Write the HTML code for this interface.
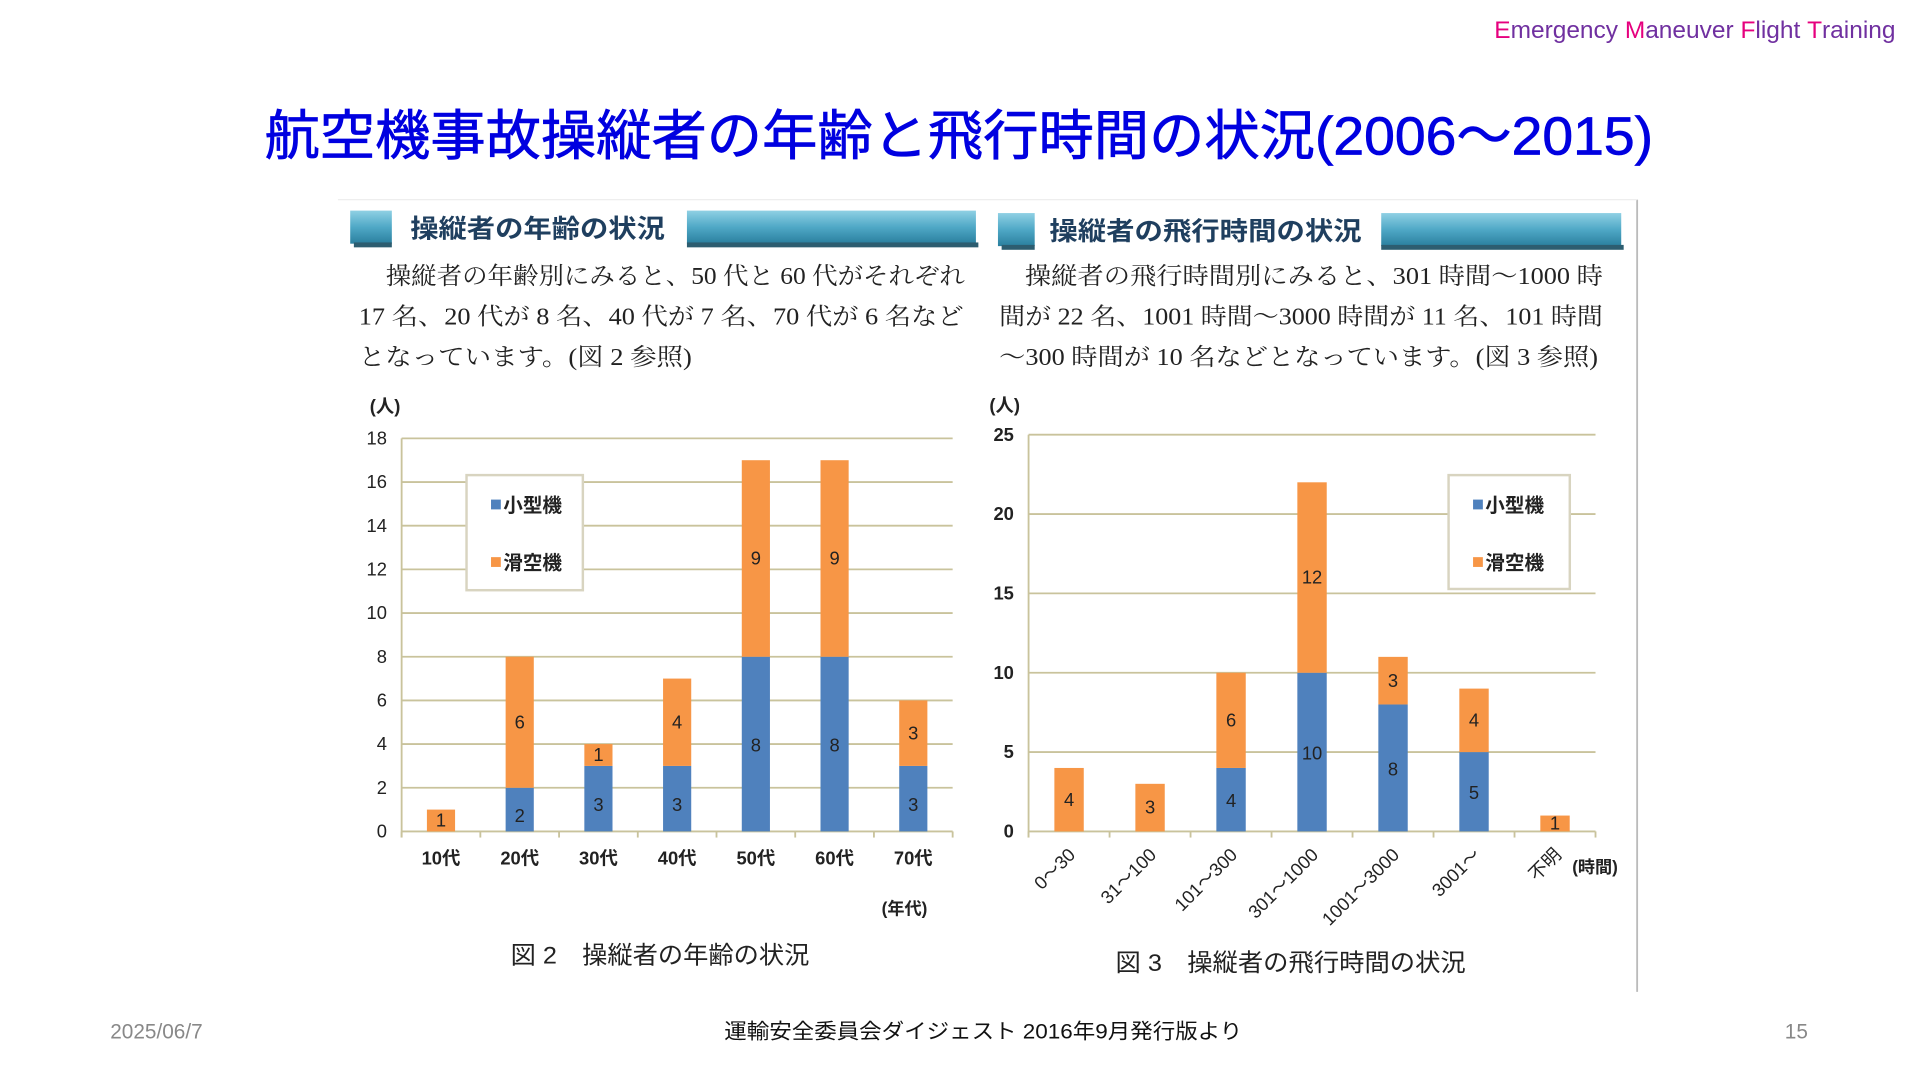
<!DOCTYPE html>
<html><head><meta charset="utf-8">
<style>
html,body{margin:0;padding:0;background:#fff;overflow:hidden}
#wrap{width:1568px;height:882px;transform:scale(1.22449);transform-origin:0 0;position:relative}
svg text{font-family:"Liberation Sans","Noto Sans CJK JP",sans-serif}
.serif{font-family:"Liberation Serif","Noto Serif CJK SC",serif !important}
</style></head><body>
<div id="wrap">
<svg id="svg" width="1568" height="882" viewBox="0 0 1568 882" xmlns="http://www.w3.org/2000/svg">
<defs>
<linearGradient id="bar" x1="0" y1="0" x2="0" y2="1">
<stop offset="0" stop-color="#8fd0e4"/><stop offset="0.5" stop-color="#4fa8c6"/><stop offset="1" stop-color="#2a7f9e"/>
</linearGradient>
</defs>
<text x="1548" y="31" text-anchor="end" font-size="20" fill="#7030a0"><tspan fill="#e6007e">E</tspan>mergency <tspan fill="#e6007e">M</tspan>aneuver <tspan fill="#e6007e">F</tspan>light <tspan fill="#e6007e">T</tspan>raining</text>
<text x="783" y="126" text-anchor="middle" font-size="44" fill="#0000e0" stroke="#0000e0" stroke-width="0.6" textLength="1134" lengthAdjust="spacingAndGlyphs">航空機事故操縦者の年齢と飛行時間の状況(2006～2015)</text>
<line x1="1337" y1="163" x2="1337" y2="810" stroke="#bbb" stroke-width="1.5"/>
<line x1="276" y1="163" x2="1337" y2="163" stroke="#eee" stroke-width="1"/>

<g>
<rect x="286" y="172" width="34" height="27" fill="url(#bar)"/>
<rect x="561" y="172" width="236" height="27" fill="url(#bar)"/>
<rect x="289" y="198" width="31" height="4" fill="#2d5d70"/>
<rect x="561" y="198" width="238" height="4" fill="#2d5d70"/>
<text x="335" y="194" font-size="21" font-weight="bold" fill="#1f3f5f" textLength="208" lengthAdjust="spacingAndGlyphs">操縦者の年齢の状況</text>
</g>
<g font-size="19.5" fill="#222">
<text class="serif" x="315" y="232" textLength="473" lengthAdjust="spacingAndGlyphs">操縦者の年齢別にみると、50 代と 60 代がそれぞれ</text>
<text class="serif" x="293" y="265" textLength="494" lengthAdjust="spacingAndGlyphs">17 名、20 代が 8 名、40 代が 7 名、70 代が 6 名など</text>
<text class="serif" x="293" y="298" textLength="272" lengthAdjust="spacingAndGlyphs">となっています。(図 2 参照)</text>
</g>
<g>
<rect x="815" y="174" width="30" height="27" fill="url(#bar)"/>
<rect x="1128" y="174" width="196" height="27" fill="url(#bar)"/>
<rect x="818" y="200" width="27" height="4" fill="#2d5d70"/>
<rect x="1128" y="200" width="198" height="4" fill="#2d5d70"/>
<text x="857" y="196" font-size="21" font-weight="bold" fill="#1f3f5f" textLength="255" lengthAdjust="spacingAndGlyphs">操縦者の飛行時間の状況</text>
</g>
<g font-size="19.5" fill="#222">
<text class="serif" x="837" y="232" textLength="472" lengthAdjust="spacingAndGlyphs">操縦者の飛行時間別にみると、301 時間～1000 時</text>
<text class="serif" x="816" y="265" textLength="493" lengthAdjust="spacingAndGlyphs">間が 22 名、1001 時間～3000 時間が 11 名、101 時間</text>
<text class="serif" x="816" y="298" textLength="489" lengthAdjust="spacingAndGlyphs">～300 時間が 10 名などとなっています。(図 3 参照)</text>
</g>

<g id="left"></g>
<g id="right"></g>

<text x="302" y="337" font-size="15" font-weight="bold" fill="#222">(人)</text>
<text x="720" y="747" font-size="14" font-weight="bold" fill="#222">(年代)</text>
<text x="539" y="787" text-anchor="middle" font-size="20" fill="#222" textLength="244" lengthAdjust="spacingAndGlyphs">図 2　操縦者の年齢の状況</text>
<text x="808" y="336" font-size="15" font-weight="bold" fill="#222">(人)</text>
<text x="1284" y="713" font-size="14" font-weight="bold" fill="#222">(時間)</text>
<text x="1054" y="793" text-anchor="middle" font-size="20" fill="#222" textLength="286" lengthAdjust="spacingAndGlyphs">図 3　操縦者の飛行時間の状況</text>

<text x="90" y="848" font-size="17" fill="#888">2025/06/7</text>
<text x="803" y="848" text-anchor="middle" font-size="17" fill="#111" textLength="423" lengthAdjust="spacingAndGlyphs">運輸安全委員会ダイジェスト 2016年9月発行版より</text>
<text x="1467" y="848" text-anchor="middle" font-size="17" fill="#888">15</text>
</svg>
</div>
<script>
const ageCategories=["10代","20代","30代","40代","50代","60代","70代"];
const ageSmall=[0,2,3,3,8,8,3];
const ageGlider=[1,6,1,4,9,9,3];
const ageTicks=[0,2,4,6,8,10,12,14,16,18];
const hourCategories=["0～30","31～100","101～300","301～1000","1001～3000","3001～","不明"];
const hourSmall=[0,0,4,10,8,5,0];
const hourGlider=[4,3,6,12,3,4,1];
const hourTicks=[0,5,10,15,20,25];
const legendLabels=["小型機","滑空機"];
const NS="http://www.w3.org/2000/svg";
const BLUE="#4f81bd",ORANGE="#f79646";
function mk(parent,tag,attrs){const e=document.createElementNS(NS,tag);for(const k in attrs)e.setAttribute(k,attrs[k]);parent.appendChild(e);return e;}
function drawChart(g,cfg){
  const ymax=cfg.ticks[cfg.ticks.length-1];
  const y=v=>cfg.y0-(cfg.y0-cfg.yTop)*v/ymax;
  const band=(cfg.x1-cfg.x0)/cfg.cats.length;
  const x=i=>cfg.x0+band*(i+0.5);
  cfg.ticks.forEach(t=>{
    const l=mk(g,"line",{x1:cfg.x0,x2:cfg.x1,y1:y(t),y2:y(t),stroke:"#c9c39c","stroke-width":1.5});
    
    
    const tx=mk(g,"text",{x:cfg.x0-12,y:y(t)+5,"text-anchor":"end","font-size":15,"font-weight":cfg.tickBold?"bold":"normal",fill:"#222"});
    tx.textContent=t;
    
    
  });
  const ax=mk(g,"line",{x1:cfg.x0,x2:cfg.x0,y1:cfg.yTop,y2:cfg.y0+5,stroke:"#c9c39c","stroke-width":1.5});
  
  
  for(let i=0;i<=cfg.cats.length;i++){
    const tk=mk(g,"line",{x1:cfg.x0+band*i,x2:cfg.x0+band*i,y1:cfg.y0,y2:cfg.y0+5,stroke:"#c9c39c","stroke-width":1.5});
    
    
  }
  cfg.cats.forEach((c,i)=>{
    const s=cfg.small[i],gl=cfg.glider[i],cx=x(i),w=cfg.bw;
    if(s>0){
      const r=mk(g,"rect",{x:cx-w/2,y:y(s),width:w,height:y(0)-y(s),fill:BLUE});
      
      
      const t=mk(g,"text",{x:cx,y:(y(0)+y(s))/2+(s<4?10:6),"text-anchor":"middle","font-size":15,fill:"#222"});
      t.textContent=s;
      
      
    }
    if(gl>0){
      const r=mk(g,"rect",{x:cx-w/2,y:y(s+gl),width:w,height:y(s)-y(s+gl),fill:ORANGE});
      
      
      const t=mk(g,"text",{x:cx,y:(y(s)+y(s+gl))/2+5,"text-anchor":"middle","font-size":15,fill:"#222"});
      t.textContent=gl;
      
      
    }
    let lb;
    if(cfg.rotate){
      lb=mk(g,"text",{x:cx+6,y:cfg.y0+20,"text-anchor":"end","font-size":15,fill:"#222",transform:`rotate(-45 ${cx+6} ${cfg.y0+20})`});
    } else {
      lb=mk(g,"text",{x:cx,y:cfg.y0+27,"text-anchor":"middle","font-size":15,"font-weight":"bold",fill:"#222"});
    }
    lb.textContent=c;
    
    
  });
  const L=cfg.legend;
  const box=mk(g,"rect",{x:L.x,y:L.y,width:L.w,height:L.h,fill:"#fff",stroke:"#d8d4c0","stroke-width":2});
  
  
  [BLUE,ORANGE].forEach((col,k)=>{
    const yy=L.y+25+k*47;
    const sw=mk(g,"rect",{x:L.x+20,y:yy-5,width:8,height:8,fill:col});
    
    
    const t=mk(g,"text",{x:L.x+30,y:yy+5,"font-size":16,"font-weight":"bold",fill:"#222"});
    t.textContent=legendLabels[k];
    
    
  });
}
drawChart(document.getElementById('left'),{cats:ageCategories,small:ageSmall,glider:ageGlider,ticks:ageTicks,x0:328,x1:778,y0:679,yTop:358,bw:23,rotate:false,tickBold:false,legend:{x:381,y:388,w:95,h:94}});
drawChart(document.getElementById('right'),{cats:hourCategories,small:hourSmall,glider:hourGlider,ticks:hourTicks,x0:840,x1:1303,y0:679,yTop:355,bw:24,rotate:true,tickBold:true,legend:{x:1183,y:388,w:99,h:93}});
</script>
</body></html>
